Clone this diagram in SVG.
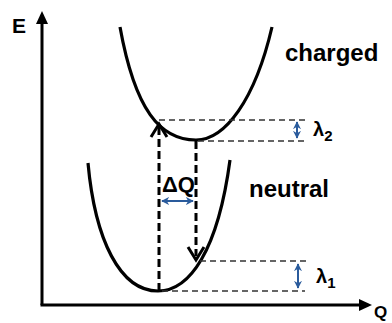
<svg xmlns="http://www.w3.org/2000/svg" width="392" height="323" viewBox="0 0 392 323">
<defs>
<style>
.axis{stroke:#000;stroke-width:3;fill:none}
.curve{stroke:#000;stroke-width:3.2;fill:none}
.guide{stroke:#333;stroke-width:1.5;stroke-dasharray:6 4;fill:none}
.trans{stroke:#000;stroke-width:3;stroke-dasharray:8 4;fill:none}
.head{stroke:#000;stroke-width:3;fill:none;stroke-linejoin:miter}
.blue{stroke:#2a5b9c;stroke-width:2;fill:none}
.lbl{font-family:"Liberation Sans",Arial,sans-serif;font-weight:bold;fill:#000}
</style>
<marker id="bh" viewBox="0 0 10 10" refX="9" refY="5" markerWidth="4" markerHeight="4" orient="auto-start-reverse" markerUnits="strokeWidth">
<path d="M0,0 L10,5 L0,10 L3,5 Z" fill="#2a5b9c"/>
</marker>
</defs>
<g id="axes">
<line class="axis" x1="42" y1="305" x2="42" y2="16"/>
<polygon points="42,11 36,24 48,24" fill="#000"/>
<line class="axis" x1="40.5" y1="305" x2="366" y2="305"/>
<polygon points="372,305 359,299 359,311" fill="#000"/>
<text class="lbl" x="12" y="33" font-size="21">E</text>
<text class="lbl" x="374" y="318" font-size="17">Q</text>
</g>
<g id="charged">
<path class="curve" d="M120,27 C135,110 160,140 196,140 C225,140 255,100 272,27"/>
<text class="lbl" x="285" y="61" font-size="24">charged</text>
</g>
<g id="neutral">
<path class="curve" d="M88,163 C95,240 120,291 158,291 C190,291 218,250 230,160"/>
<text class="lbl" x="249" y="197" font-size="24">neutral</text>
</g>
<g id="connectors">
<line class="trans" x1="159" y1="291" x2="159" y2="127"/>
<polyline class="head" points="151,137 159,124 167,137"/>
<line class="trans" x1="196" y1="141" x2="196" y2="256"/>
<polyline class="head" points="188,247 196,260 204,247"/>
<line class="guide" x1="159" y1="120" x2="305" y2="120"/>
<line class="guide" x1="198" y1="141" x2="307" y2="141"/>
<line class="guide" x1="200" y1="261" x2="310" y2="261"/>
<line class="guide" x1="162" y1="291" x2="305" y2="291"/>
<line class="blue" x1="162" y1="201" x2="193" y2="201" marker-start="url(#bh)" marker-end="url(#bh)"/>
<line class="blue" x1="297" y1="122" x2="297" y2="138" marker-start="url(#bh)" marker-end="url(#bh)"/>
<line class="blue" x1="298" y1="264" x2="298" y2="288" marker-start="url(#bh)" marker-end="url(#bh)"/>
</g>
<g id="labels">
<text class="lbl" x="162" y="192" font-size="22">ΔQ</text>
<text class="lbl" x="313" y="136" font-size="20">λ<tspan font-size="15" dy="5">2</tspan></text>
<text class="lbl" x="316" y="283" font-size="20">λ<tspan font-size="15" dy="5">1</tspan></text>
</g>
</svg>
